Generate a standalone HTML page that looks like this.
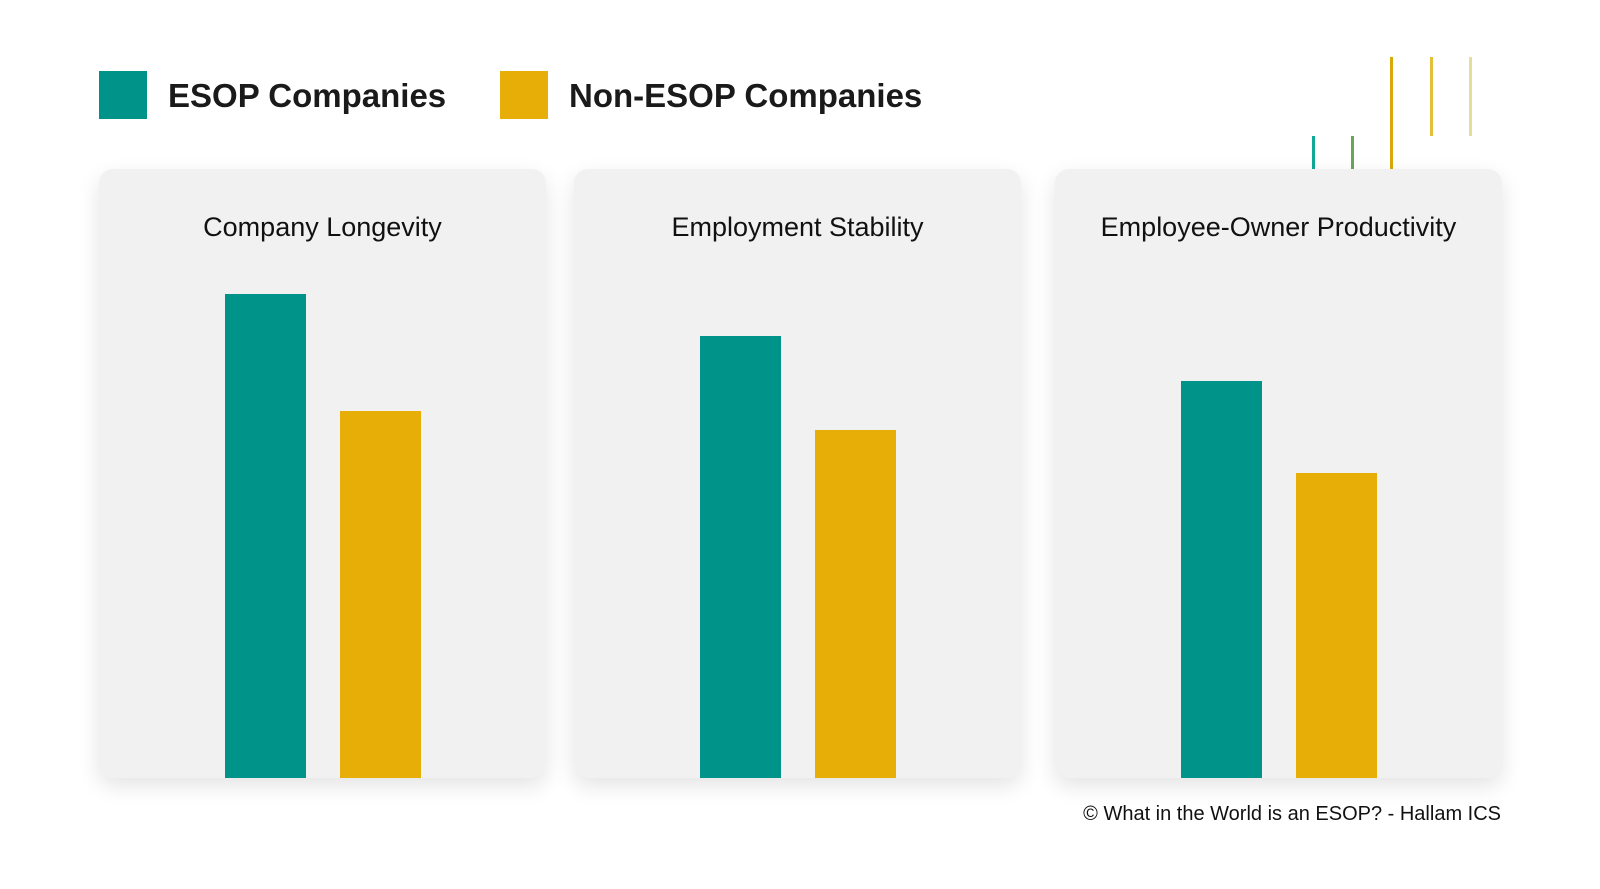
<!DOCTYPE html>
<html><head><meta charset="utf-8"><style>
body{margin:0;width:1600px;height:889px;background:#fff;position:relative;overflow:hidden;font-family:"Liberation Sans",sans-serif;}
.abs{position:absolute;}
.panel{position:absolute;top:169px;height:609px;background:#f1f1f1;border-radius:14px;box-shadow:0 8px 22px rgba(0,0,0,0.11);}
.ptitle{position:absolute;top:43px;left:0;right:0;text-align:center;font-size:27px;color:#111;}
.leg{position:absolute;top:71px;width:48px;height:48px;}
.legt{position:absolute;top:77px;font-size:33px;font-weight:bold;color:#1a1a1a;}
.deco{position:absolute;width:3px;}
</style></head><body>
<div class="leg" style="left:99px;background:#00938a"></div>
<div class="legt" style="left:168px">ESOP Companies</div>
<div class="leg" style="left:500px;background:#e6ae07"></div>
<div class="legt" style="left:569px">Non-ESOP Companies</div>

<div class="deco" style="left:1312px;top:136px;height:34px;background:#10a896"></div>
<div class="deco" style="left:1351px;top:136px;height:34px;background:#6aa55a"></div>
<div class="deco" style="left:1390px;top:57px;height:113px;background:#d9a90a"></div>
<div class="deco" style="left:1430px;top:57px;height:79px;background:#e4c03a"></div>
<div class="deco" style="left:1469px;top:57px;height:79px;background:#e3df9a"></div>

<div id="charts"></div>
<div class="abs" style="left:995px;top:803px;width:506px;text-align:right;font-size:20px;color:#111">© What in the World is an ESOP? - Hallam ICS</div>

<script>
const categories = ["Company Longevity","Employment Stability","Employee-Owner Productivity"];
const esopValues = [473,432,388];
const nonEsopValues = [358,340,298];
const panelLefts = [99,574,1055];
const panelWidth = 447;
const panelTop = 169;
const baseY = 778, maxVal = 500, maxPx = 512;
function yScale(v){ return baseY - (v/maxVal)*maxPx; }
const root = document.getElementById('charts');
categories.forEach((c,i)=>{
  const p = document.createElement('div');
  p.className='panel';
  p.style.left=panelLefts[i]+'px'; p.style.width=panelWidth+'px';
  
  
  const t = document.createElement('div');
  t.className='ptitle'; t.textContent=c;
  
  
  p.appendChild(t);
  const vals=[esopValues[i],nonEsopValues[i]], cols=['#00938a','#e6ae07'], offs=[126,241];
  vals.forEach((v,j)=>{
    const b=document.createElement('div');
    const y=yScale(v);
    b.style.cssText='position:absolute;width:81px;left:'+offs[j]+'px;top:'+(y-panelTop)+'px;height:'+(baseY-y)+'px;background:'+cols[j];
    
    
    p.appendChild(b);
  });
  root.appendChild(p);
});
</script>
</body></html>
